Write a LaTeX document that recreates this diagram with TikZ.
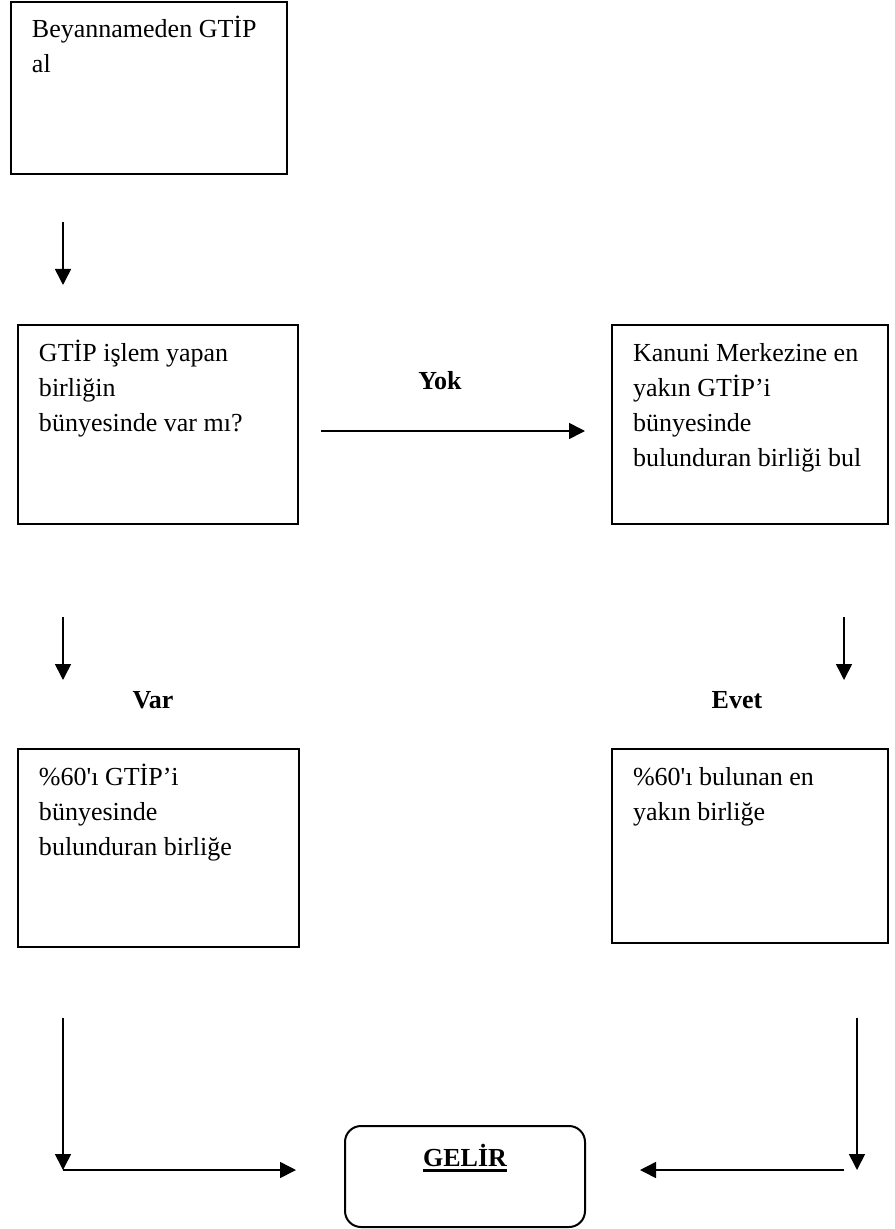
\documentclass[tikz,border=0pt]{standalone}
\usepackage{fontspec}
\setmainfont{Liberation Serif}
\usepackage{tikz}
\usetikzlibrary{arrows.meta}
\newcommand{\stepbody}[4][\raggedright]{\parbox[c][#3][t]{#2}{#1\strut #4}}
\newcommand{\heavyul}[1]{\setbox0=\hbox{#1}\rlap{\rule[-2.8pt]{\wd0}{1.4pt}}\box0}
\tikzset{
  stepbox/.style = {rectangle, draw=black, line width=1pt, anchor=north west,
                    inner xsep=10.5pt, inner ysep=5.75pt, font=\fontsize{13}{17.5}\selectfont},
  endbox/.style  = {stepbox, rounded corners=8pt, inner ysep=7.75pt},
  flow/.style    = {-{Triangle[length=8pt,width=8pt]}, line width=0.8pt},
  answer/.style  = {anchor=base, font=\fontsize{13}{17.5}\selectfont\bfseries},
}
\begin{document}
\begin{tikzpicture}[x=0.5pt, y=-0.5pt]
  \useasboundingbox (0,0) rectangle (894,1229);
  \node[stepbox] (beyan) at (10,1) {\stepbody{117pt}{74.5pt}{Beyannameden GTİP\\al}};
  \node[stepbox] (sorgu) at (17,324) {\stepbody{119pt}{88pt}{GTİP işlem yapan\\birliğin\\bünyesinde var mı?}};
  \node[stepbox] (kanuni) at (611,324) {\stepbody{117pt}{88pt}{Kanuni Merkezine en\\yakın GTİP’i\\bünyesinde\\bulunduran birliği bul}};
  \node[stepbox] (payvar) at (17,748) {\stepbody{119.5pt}{87.5pt}{\%60\textquotesingle ı GTİP’i\\bünyesinde\\bulunduran birliğe}};
  \node[stepbox] (payyok) at (611,748) {\stepbody{117pt}{85.5pt}{\%60\textquotesingle ı bulunan en\\yakın birliğe}};
  \node[endbox] (gelir) at (344,1125) {\stepbody[\centering]{99pt}{35pt}{\textbf{\heavyul{GELİR}}}};
  \node[answer] (yok) at (440,390) {Yok};
  \node[answer] (var) at (153,708) {Var};
  \node[answer] (evet) at (737,708) {Evet};
  \coordinate (d1) at (63,222);   \coordinate (d2) at (63,285);
  \coordinate (y1) at (321,431);  \coordinate (y2) at (585,431);
  \coordinate (v1) at (63,617);   \coordinate (v2) at (63,680);
  \coordinate (e1) at (844,617);  \coordinate (e2) at (844,680);
  \coordinate (l1) at (63,1018);  \coordinate (l2) at (63,1170);  \coordinate (l3) at (296,1170);
  \coordinate (r1) at (857,1018); \coordinate (r2) at (857,1170);
  \coordinate (r3) at (844,1170); \coordinate (r4) at (640,1170);
  \draw[flow] (d1) -- (d2);
  \draw[flow] (y1) -- (y2);
  \draw[flow] (v1) -- (v2);
  \draw[flow] (e1) -- (e2);
  \draw[flow] (l1) -- (l2);
  \draw[flow] (l2) -- (l3);
  \draw[flow] (r1) -- (r2);
  \draw[flow] (r3) -- (r4);
\end{tikzpicture}
\end{document}
